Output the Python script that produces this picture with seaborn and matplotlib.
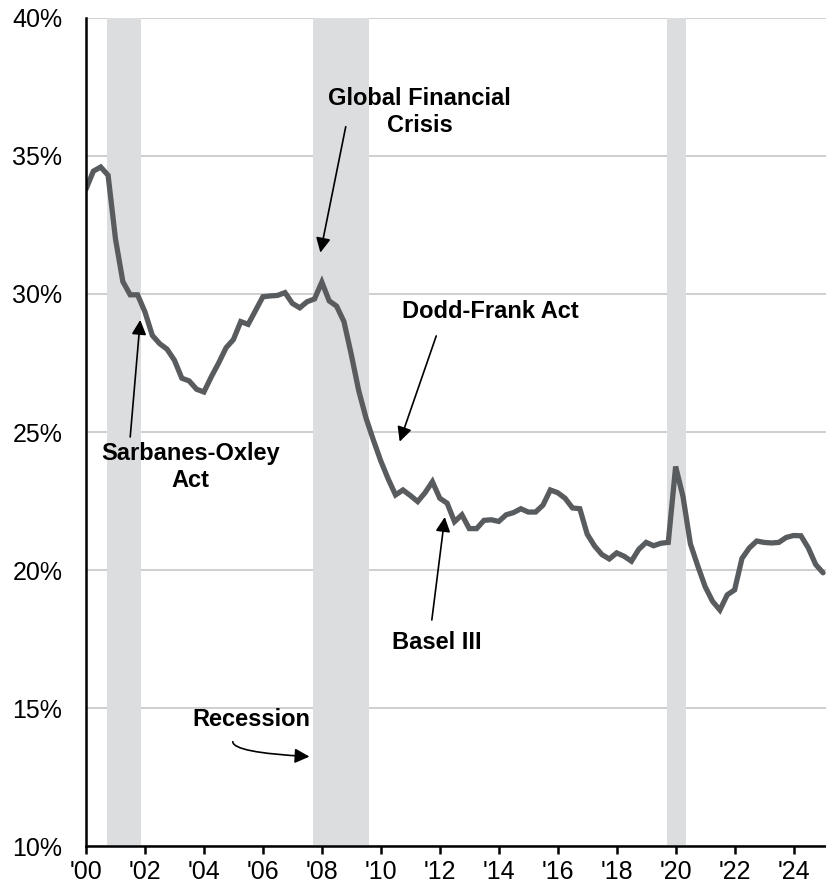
import numpy as np
import pandas as pd
import seaborn as sns
import matplotlib
matplotlib.use("Agg")
import matplotlib.pyplot as plt
from matplotlib.ticker import FixedLocator

# quarterly values, 2000Q1 .. 2025Q1 (percent)
values = [
    33.8, 34.45, 34.6, 34.3,      # 2000
    32.0, 30.45, 29.97, 29.97,    # 2001
    29.35, 28.5, 28.2, 28.0,      # 2002
    27.6, 26.95, 26.85, 26.55,    # 2003
    26.45, 27.0, 27.5, 28.05,     # 2004
    28.35, 29.0, 28.9, 29.4,      # 2005
    29.9, 29.93, 29.95, 30.05,    # 2006
    29.66, 29.5, 29.72, 29.82,    # 2007
    30.43, 29.75, 29.56, 29.0,    # 2008
    27.8, 26.5, 25.5, 24.7,       # 2009
    23.95, 23.3, 22.72, 22.9,     # 2010
    22.7, 22.48, 22.8, 23.2,      # 2011
    22.6, 22.42, 21.75, 22.0,     # 2012
    21.5, 21.5, 21.8, 21.82,      # 2013
    21.76, 22.0, 22.08, 22.22,    # 2014
    22.1, 22.1, 22.35, 22.9,      # 2015
    22.8, 22.6, 22.25, 22.22,     # 2016
    21.3, 20.87, 20.56, 20.4,     # 2017
    20.62, 20.5, 20.32, 20.75,    # 2018
    21.0, 20.88, 20.97, 21.0,     # 2019
    23.75, 22.66, 20.95, 20.15,   # 2020
    19.4, 18.87, 18.55, 19.1,     # 2021
    19.28, 20.42, 20.8, 21.05,    # 2022
    21.0, 20.98, 21.0, 21.18,     # 2023
    21.25, 21.24, 20.8, 20.2,     # 2024
    19.9,                         # 2025
]
quarters = 2000 + np.arange(len(values)) / 4.0

recessions = [(2000.70, 2001.85), (2007.70, 2009.60), (2019.72, 2020.35)]

x_ticks = list(range(2000, 2025, 2))
x_labels = ["'%02d" % (t % 100) for t in x_ticks]
y_ticks = [10, 15, 20, 25, 30, 35, 40]
y_labels = ["%d%%" % t for t in y_ticks]

df = pd.DataFrame({"quarter": quarters, "share": values})

LINE = "#595c5f"
BAND = "#dcdddf"

sns.set_style("white")
plt.rcParams["font.family"] = ["Liberation Sans", "DejaVu Sans"]
plt.rcParams["text.color"] = "black"
plt.rcParams["xtick.color"] = "black"
plt.rcParams["ytick.color"] = "black"

fig = plt.figure(figsize=(8.26, 8.9), dpi=100)
ax = fig.add_axes([0.1041, 0.0494, 0.8959, 0.9304])

for a, b in recessions:
    ax.axvspan(a, b, color=BAND, lw=0, zorder=1)

sns.lineplot(data=df, x="quarter", y="share", ax=ax, color=LINE, lw=3.8,
             zorder=3, solid_joinstyle="miter")

ax.set_xlim(2000, 2025.1)
ax.set_ylim(10, 40)
ax.yaxis.set_major_locator(FixedLocator(y_ticks))
ax.set_yticklabels(y_labels, fontsize=18, color="black")
ax.xaxis.set_major_locator(FixedLocator(x_ticks))
ax.set_xticklabels(x_labels, fontsize=18, color="black")
ax.set_xlabel("")
ax.set_ylabel("")

ax.grid(axis="y", color="#cfcfcf", lw=1.4, zorder=0)
ax.set_axisbelow(True)
for s in ["top", "right"]:
    ax.spines[s].set_visible(False)
for s in ["left", "bottom"]:
    ax.spines[s].set_color("black")
    ax.spines[s].set_linewidth(1.8)
    ax.spines[s].set_zorder(4)
ax.tick_params(axis="x", length=6, width=1.8, color="black", pad=4,
               direction="out", bottom=True, labelcolor="black")
ax.tick_params(axis="y", length=0, pad=17, left=False, labelcolor="black")

arrow = dict(arrowstyle="-|>", color="black", lw=1.2, mutation_scale=22,
             shrinkA=0, shrinkB=0)
tkw = dict(fontsize=17, fontweight="bold", ha="center", va="center",
           linespacing=1.25, zorder=5, color="black")

ax.text(2011.32, 36.6, "Global Financial\nCrisis", **tkw)
ax.annotate("", xy=(2007.95, 31.5), xytext=(2008.81, 36.06), arrowprops=arrow)

ax.text(2013.73, 29.38, "Dodd-Frank Act", **tkw)
ax.annotate("", xy=(2010.64, 24.65), xytext=(2011.88, 28.48), arrowprops=arrow)

ax.text(2003.54, 23.73, "Sarbanes-Oxley\nAct", **tkw)
ax.annotate("", xy=(2001.84, 29.06), xytext=(2001.50, 24.82), arrowprops=arrow)

ax.text(2011.9, 17.36, "Basel III", **tkw)
ax.annotate("", xy=(2012.17, 21.92), xytext=(2011.73, 18.19), arrowprops=arrow)

ax.text(2005.61, 14.6, "Recession", **tkw)
ax.annotate("", xy=(2007.58, 13.24), xytext=(2004.98, 13.78),
            arrowprops=dict(arrow, connectionstyle="angle3,angleA=90,angleB=-3"))

fig.savefig("out.png", dpi=100, facecolor="white")
